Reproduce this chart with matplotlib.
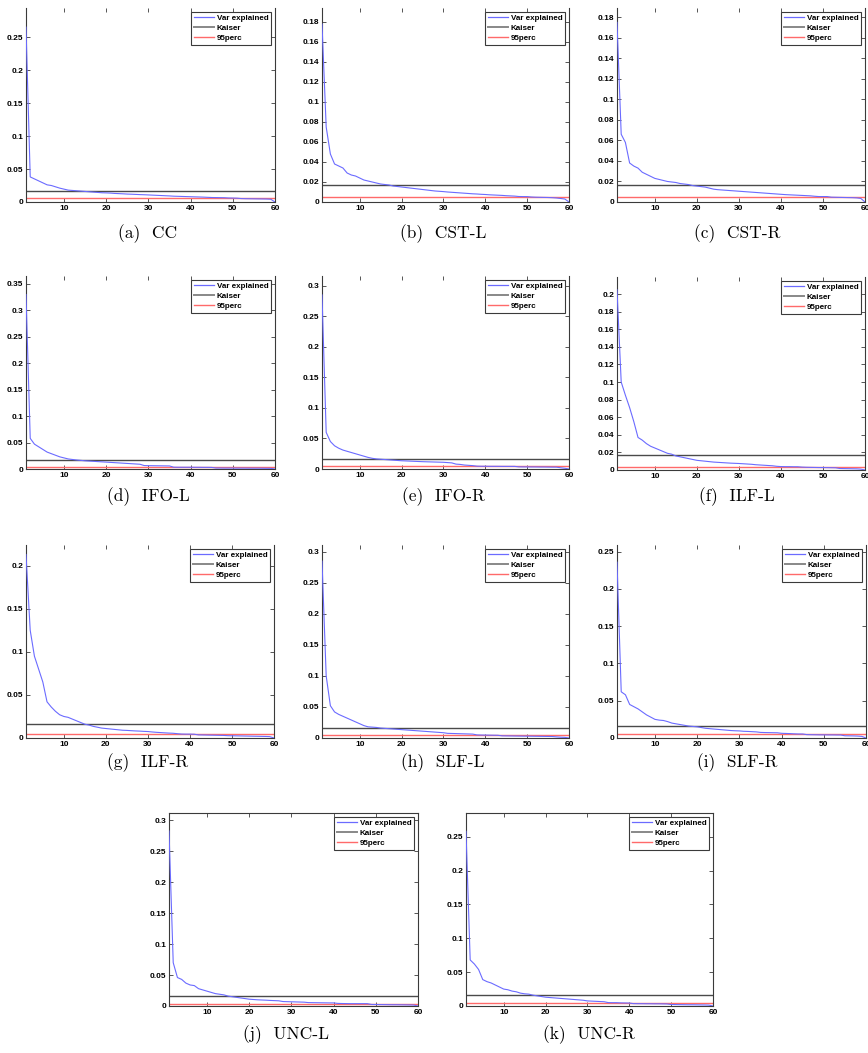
import matplotlib
matplotlib.use("Agg")
import matplotlib.pyplot as plt
from matplotlib.ticker import FormatStrFormatter, MultipleLocator
import numpy as np

# ---------------- data ----------------
components = list(range(1, 61))
kaiser = 1.0 / 60

cc = [0.265, 0.038, 0.035, 0.032, 0.029, 0.026, 0.025, 0.023, 0.021, 0.0195,
      0.018, 0.0175, 0.017, 0.0165, 0.016, 0.0155, 0.015, 0.0145, 0.014, 0.0138,
      0.0135, 0.013, 0.0127, 0.0124, 0.012, 0.0118, 0.0115, 0.0112, 0.011, 0.0107,
      0.0104, 0.0101, 0.0098, 0.0095, 0.0092, 0.0088, 0.0086, 0.0084, 0.0082, 0.008,
      0.0078, 0.0076, 0.0074, 0.0071, 0.0068, 0.0067, 0.0066, 0.0065, 0.0061, 0.006,
      0.0058, 0.0052, 0.005, 0.0049, 0.0048, 0.0047, 0.0046, 0.0045, 0.0042, 0.0]
cst_l = [0.178, 0.075, 0.048, 0.038, 0.036, 0.034, 0.029, 0.027, 0.026, 0.024,
         0.022, 0.021, 0.020, 0.019, 0.018, 0.0175, 0.017, 0.016, 0.0155, 0.015,
         0.0145, 0.014, 0.0135, 0.013, 0.0125, 0.012, 0.0115, 0.011, 0.0107, 0.0104,
         0.0100, 0.0097, 0.0094, 0.0091, 0.0088, 0.0085, 0.0082, 0.0080, 0.0077, 0.0075,
         0.0072, 0.0070, 0.0068, 0.0066, 0.0063, 0.0061, 0.0059, 0.0055, 0.0054, 0.0054,
         0.0050, 0.0048, 0.0047, 0.0046, 0.0045, 0.0043, 0.0040, 0.0035, 0.0030, 0.0]
cst_r = [0.175, 0.066, 0.058, 0.038, 0.035, 0.033, 0.029, 0.027, 0.025, 0.023,
         0.022, 0.021, 0.020, 0.0195, 0.019, 0.018, 0.0175, 0.017, 0.016, 0.0155,
         0.015, 0.0145, 0.0135, 0.0125, 0.012, 0.0117, 0.0114, 0.0111, 0.0108, 0.0105,
         0.0102, 0.0099, 0.0096, 0.0093, 0.0090, 0.0087, 0.0084, 0.0081, 0.0078, 0.0075,
         0.0072, 0.0070, 0.0068, 0.0066, 0.0064, 0.0062, 0.0060, 0.0056, 0.0053, 0.0053,
         0.0053, 0.0047, 0.0046, 0.0045, 0.0044, 0.0043, 0.0042, 0.0040, 0.0035, 0.0]
ifo_l = [0.33, 0.058, 0.047, 0.042, 0.037, 0.032, 0.029, 0.026, 0.023, 0.021,
         0.019, 0.018, 0.017, 0.0163, 0.0155, 0.015, 0.0145, 0.014, 0.0135, 0.013,
         0.0125, 0.012, 0.0115, 0.011, 0.0105, 0.0100, 0.0095, 0.0090, 0.0065, 0.0063,
         0.0062, 0.0061, 0.0060, 0.0059, 0.0058, 0.0034, 0.0033, 0.0033, 0.0033, 0.0033,
         0.0032, 0.0032, 0.0031, 0.0031, 0.0030, 0.0018, 0.0018, 0.0017, 0.0017, 0.0017,
         0.0016, 0.0016, 0.0016, 0.0015, 0.0015, 0.0015, 0.0014, 0.0013, 0.0012, 0.0]
ifo_r = [0.285, 0.060, 0.045, 0.038, 0.034, 0.031, 0.029, 0.027, 0.025, 0.023,
         0.021, 0.019, 0.0175, 0.0165, 0.016, 0.0155, 0.015, 0.0145, 0.014, 0.0135,
         0.0132, 0.0129, 0.0126, 0.0123, 0.012, 0.0118, 0.0116, 0.0114, 0.0112, 0.011,
         0.0105, 0.0100, 0.0080, 0.0075, 0.0065, 0.0060, 0.0055, 0.0047, 0.0045, 0.0045,
         0.0044, 0.0044, 0.0044, 0.0043, 0.0043, 0.0043, 0.0043, 0.0035, 0.0034, 0.0034,
         0.0033, 0.0033, 0.0032, 0.0032, 0.0031, 0.0030, 0.0030, 0.0020, 0.0012, 0.0]
ilf_l = [0.205, 0.100, 0.085, 0.071, 0.055, 0.037, 0.034, 0.030, 0.027, 0.025,
         0.023, 0.021, 0.019, 0.018, 0.016, 0.015, 0.014, 0.013, 0.012, 0.011,
         0.0105, 0.0100, 0.0095, 0.0090, 0.0087, 0.0084, 0.0081, 0.0078, 0.0076, 0.0074,
         0.0071, 0.0068, 0.0065, 0.0060, 0.0057, 0.0054, 0.0051, 0.0048, 0.0042, 0.0039,
         0.0038, 0.0038, 0.0037, 0.0037, 0.0033, 0.0031, 0.0030, 0.0029, 0.0028, 0.0028,
         0.0027, 0.0026, 0.0025, 0.0017, 0.0016, 0.0015, 0.0014, 0.0013, 0.0010, 0.0]
ilf_r = [0.213, 0.125, 0.095, 0.080, 0.065, 0.042, 0.036, 0.031, 0.027, 0.025,
         0.024, 0.022, 0.020, 0.018, 0.016, 0.015, 0.0135, 0.0125, 0.0115, 0.011,
         0.0105, 0.0100, 0.0095, 0.0090, 0.0088, 0.0085, 0.0082, 0.0080, 0.0077, 0.0075,
         0.0070, 0.0066, 0.0063, 0.0060, 0.0057, 0.0055, 0.0050, 0.0046, 0.0045, 0.0045,
         0.0044, 0.0036, 0.0035, 0.0034, 0.0033, 0.0032, 0.0031, 0.0030, 0.0027, 0.0026,
         0.0025, 0.0024, 0.0023, 0.0022, 0.0021, 0.0020, 0.0019, 0.0018, 0.0016, 0.0]
slf_l = [0.285, 0.100, 0.052, 0.042, 0.038, 0.035, 0.032, 0.029, 0.026, 0.023,
         0.020, 0.018, 0.0175, 0.017, 0.016, 0.0155, 0.015, 0.0145, 0.014, 0.0135,
         0.013, 0.0125, 0.012, 0.0115, 0.011, 0.0105, 0.010, 0.0095, 0.009, 0.0085,
         0.0075, 0.0073, 0.0071, 0.0069, 0.0067, 0.0065, 0.0063, 0.0050, 0.0048, 0.0047,
         0.0046, 0.0045, 0.0044, 0.0035, 0.0034, 0.0033, 0.0032, 0.0031, 0.0030, 0.0030,
         0.0029, 0.0028, 0.0027, 0.0026, 0.0025, 0.0024, 0.0018, 0.0013, 0.0010, 0.0]
slf_r = [0.236, 0.062, 0.058, 0.045, 0.042, 0.039, 0.035, 0.031, 0.028, 0.025,
         0.024, 0.0235, 0.022, 0.020, 0.019, 0.018, 0.017, 0.016, 0.0155, 0.015,
         0.014, 0.013, 0.0125, 0.012, 0.0115, 0.011, 0.0105, 0.010, 0.0097, 0.0095,
         0.009, 0.0088, 0.0085, 0.0082, 0.0075, 0.0073, 0.0072, 0.0071, 0.0070, 0.0063,
         0.0061, 0.0059, 0.0056, 0.0054, 0.0054, 0.0045, 0.0044, 0.0043, 0.0042, 0.0042,
         0.0041, 0.0041, 0.0040, 0.0040, 0.0030, 0.0029, 0.0028, 0.0026, 0.0022, 0.0]
unc_l = [0.283, 0.070, 0.046, 0.043, 0.037, 0.034, 0.033, 0.028, 0.026, 0.024,
         0.022, 0.020, 0.019, 0.018, 0.016, 0.015, 0.014, 0.013, 0.012, 0.011,
         0.0105, 0.010, 0.0097, 0.0094, 0.009, 0.0087, 0.0084, 0.0072, 0.0070, 0.0068,
         0.0066, 0.0064, 0.0062, 0.0055, 0.0054, 0.0053, 0.0052, 0.0051, 0.0050, 0.0050,
         0.0042, 0.0040, 0.0039, 0.0038, 0.0038, 0.0038, 0.0038, 0.0038, 0.0025, 0.0024,
         0.0023, 0.0022, 0.0021, 0.0020, 0.0020, 0.0019, 0.0018, 0.0017, 0.0015, 0.0]
unc_r = [0.258, 0.068, 0.062, 0.054, 0.039, 0.036, 0.034, 0.031, 0.028, 0.025,
         0.024, 0.022, 0.021, 0.019, 0.018, 0.0175, 0.016, 0.015, 0.014, 0.013,
         0.0125, 0.012, 0.0115, 0.011, 0.0105, 0.010, 0.0095, 0.009, 0.0085, 0.0075,
         0.0072, 0.0069, 0.0066, 0.0063, 0.0050, 0.0049, 0.0049, 0.0046, 0.0045, 0.0044,
         0.0035, 0.0034, 0.0034, 0.0033, 0.0033, 0.0032, 0.0032, 0.0031, 0.0030, 0.0022,
         0.0021, 0.0020, 0.0019, 0.0018, 0.0018, 0.0017, 0.0016, 0.0015, 0.0013, 0.0]

captions = ["(a)  CC", "(b)  CST-L", "(c)  CST-R", "(d)  IFO-L", "(e)  IFO-R",
            "(f)  ILF-L", "(g)  ILF-R", "(h)  SLF-L", "(i)  SLF-R", "(j)  UNC-L",
            "(k)  UNC-R"]
series = [cc, cst_l, cst_r, ifo_l, ifo_r, ilf_l, ilf_r, slf_l, slf_r, unc_l, unc_r]
perc95 = [0.0067, 0.0054, 0.0053, 0.0033, 0.0044, 0.0038, 0.0045, 0.0045, 0.0054,
          0.0038, 0.0049]
ytop = [0.294, 0.194, 0.189, 0.365, 0.316, 0.2195, 0.224, 0.311, 0.259, 0.312, 0.285]
ystep = [0.05, 0.02, 0.02, 0.05, 0.05, 0.02, 0.05, 0.05, 0.05, 0.05, 0.05]
xticks = [10, 20, 30, 40, 50, 60]
legend_labels = ["Var explained", "Kaiser", "95perc"]

# ---------------- layout (pixels) ----------------
W, H = 868, 1053
boxes = [(26, 275, 8, 202), (322, 569, 8, 202), (617, 865, 8, 202),
         (26, 275, 276, 469), (322, 569, 276, 469), (617, 865, 277, 470),
         (26, 274, 545, 738), (322, 569, 545, 738), (617, 866, 545, 738),
         (169, 418, 813, 1006), (466, 713, 813, 1006)]
cap_pos = [(148, 234), (443, 234), (737, 234),
           (148, 497), (443, 497), (737, 497),
           (148, 763), (443, 763), (737, 763),
           (286, 1035), (589, 1035)]
show_top = [False] * 9 + [True, True]

BLUE = "#6b6bff"
GRAY = "#4a4a4a"
RED = "#ff6a6a"
AX = "#3a3a3a"

fig = plt.figure(figsize=(W / 100, H / 100), dpi=100)
tickfont = dict(family="Liberation Sans", size=6.0, weight="bold")

for i in range(11):
    l, r, t, b = boxes[i]
    ax = fig.add_axes([l / W, 1 - b / H, (r - l) / W, (b - t) / H])
    ax.plot([1, 60], [perc95[i], perc95[i]], color=RED, lw=1.0, zorder=2)
    ax.plot([1, 60], [kaiser, kaiser], color=GRAY, lw=1.0, zorder=2)
    ax.plot(components, series[i], color=BLUE, lw=0.8, zorder=3)
    ax.set_xlim(1, 60)
    ax.set_ylim(0, ytop[i])
    ax.set_xticks(xticks)
    ax.yaxis.set_major_locator(MultipleLocator(ystep[i]))
    ax.yaxis.set_major_formatter(FormatStrFormatter("%g"))
    ax.tick_params(direction="in", top=True, right=True, length=3, width=0.6,
                   color=AX, pad=2)
    for lab in ax.get_xticklabels() + ax.get_yticklabels():
        lab.set_fontproperties(tickfont)
    for name, sp in ax.spines.items():
        sp.set_color(AX)
        sp.set_linewidth(0.8)
    ax.spines["top"].set_visible(show_top[i])
    handles = [plt.Line2D([], [], color=BLUE, lw=0.9),
               plt.Line2D([], [], color="#888888", lw=1.4),
               plt.Line2D([], [], color=RED, lw=1.0)]
    leg = ax.legend(handles, legend_labels, loc="upper right",
                    prop=dict(family="Liberation Sans", size=5.8, weight="bold"),
                    frameon=True, fancybox=False, borderaxespad=0.45,
                    handlelength=2.4, handletextpad=0.4, labelspacing=0.3,
                    borderpad=0.35)
    leg.get_frame().set_edgecolor(AX)
    leg.get_frame().set_linewidth(0.8)
    leg.get_frame().set_alpha(1)
    cx, cy = cap_pos[i]
    fig.text(cx / W, 1 - cy / H, captions[i], ha="center", va="center",
             family="cmr10", size=12.5)

fig.savefig("out.png", dpi=100)
